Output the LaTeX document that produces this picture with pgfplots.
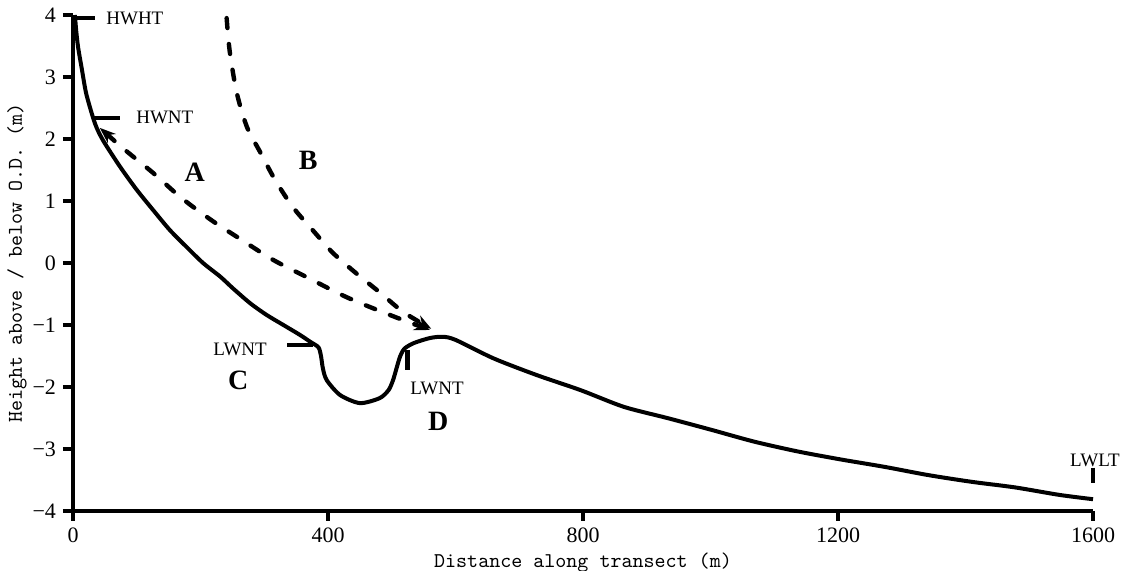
\documentclass[border=0pt]{standalone}
\usepackage{fontspec}
\setmainfont{Liberation Serif}
\usepackage{pgfplots}
\pgfplotsset{compat=1.18}
\usetikzlibrary{arrows.meta}
\begin{document}
\begin{tikzpicture}
\useasboundingbox (-36.5pt,-30pt) rectangle (528pt,255.5pt);
\begin{axis}[
  at={(0,0)}, anchor=south west,
  scale only axis, width=510pt, height=248pt,
  xmin=0, xmax=1600, ymin=-4, ymax=4,
  axis x line*=bottom, axis y line*=left,
  axis line style={line width=2.2pt,-},
  xtick={0,400,800,1200,1600}, ytick={-4,-3,-2,-1,0,1,2,3,4},
  yticklabels={−4,−3,−2,−1,0,1,2,3,4},
  tick align=outside, major tick length=5pt,
  tick style={line width=1.8pt,black},
  /pgf/number format/assume math mode=true,
  /pgf/number format/1000 sep={},
  ticklabel style={font=\fontsize{11}{12}\selectfont},
  xlabel={\ttfamily Distance along transect (m)},
  ylabel={\ttfamily Height above / below O.D. (m)},
  xlabel style={font=\fontsize{10.5}{12}\selectfont, yshift=2pt},
  ylabel style={font=\fontsize{10.5}{12}\selectfont, yshift=-4pt},
  clip=false,
]
% main profile
\addplot[black, line width=2pt, smooth, tension=0.45, line join=round] coordinates {
(3,4.0) (5,3.75) (8,3.48) (14,3.12) (21,2.72) (34.5,2.25) (47,1.98) (74,1.55)
(100,1.18) (126,0.85) (152,0.53) (178,0.26) (204,0.0) (231,-0.22) (251,-0.41)
(278,-0.65) (304,-0.84) (330,-1.0) (356,-1.16) (372,-1.27) (385,-1.36)
(389,-1.5) (392,-1.7) (398,-1.89) (419,-2.13) (450,-2.26) (481,-2.18)
(495,-2.05) (502,-1.89) (508,-1.68) (513,-1.51) (520,-1.38) (535,-1.29)
(560,-1.21) (580,-1.19) (600,-1.24) (660,-1.54) (728,-1.81) (796,-2.05)
(864,-2.32) (932,-2.50) (1001,-2.69) (1068,-2.88) (1137,-3.04) (1205,-3.17)
(1274,-3.29) (1341,-3.42) (1410,-3.53) (1478,-3.62) (1547,-3.74) (1600,-3.81)
};
% A
\addplot[black, line width=2.2pt, line cap=round, dash pattern=on 5pt off 8pt, smooth,
  {Stealth[length=8pt,width=6pt,line cap=butt]}-{Stealth[length=8pt,width=6pt,line cap=butt]}] coordinates {
(42,2.18) (82,1.82) (126,1.45) (170,1.05) (220,0.67) (265,0.37) (314,0.05)
(369,-0.24) (431,-0.56) (505,-0.87) (560,-1.08)
};
% B
\addplot[black, line width=2.2pt, line cap=round, dash pattern=on 5pt off 8pt, smooth,
  -{Stealth[length=8pt,width=6pt,line cap=butt]}] coordinates {
(241,3.95) (246,3.4) (257,2.74) (273,2.19) (293,1.80) (317,1.34) (345,0.90)
(376,0.53) (408,0.16) (447,-0.19) (482,-0.48) (518,-0.79) (562,-1.06)
};
% tide level markers
\addplot[black, line width=2.2pt] coordinates {(0,3.95) (35,3.95)};
\addplot[black, line width=2.2pt] coordinates {(31,2.34) (74,2.34)};
\addplot[black, line width=2.2pt] coordinates {(336,-1.32) (376,-1.32)};
\addplot[black, line width=2.2pt] coordinates {(525,-1.40) (525,-1.73)};
\addplot[black, line width=2.2pt] coordinates {(1600,-3.30) (1600,-3.55)};
% labels
\node[font=\fontsize{9.5}{10}\selectfont] at (axis cs:97,3.95) {HWHT};
\node[font=\fontsize{9.5}{10}\selectfont] at (axis cs:144,2.34) {HWNT};
\node[font=\fontsize{9.5}{10}\selectfont] at (axis cs:262,-1.40) {LWNT};
\node[font=\fontsize{9.5}{10}\selectfont] at (axis cs:571,-2.03) {LWNT};
\node[font=\fontsize{9.5}{10}\selectfont] at (axis cs:1603,-3.18) {LWLT};
\node[font=\fontsize{14}{16}\selectfont\bfseries] at (axis cs:191,1.47) {A};
\node[font=\fontsize{14}{16}\selectfont\bfseries] at (axis cs:369,1.66) {B};
\node[font=\fontsize{14}{16}\selectfont\bfseries] at (axis cs:259,-1.90) {C};
\node[font=\fontsize{14}{16}\selectfont\bfseries] at (axis cs:573,-2.56) {D};
\end{axis}
\end{tikzpicture}
\end{document}
